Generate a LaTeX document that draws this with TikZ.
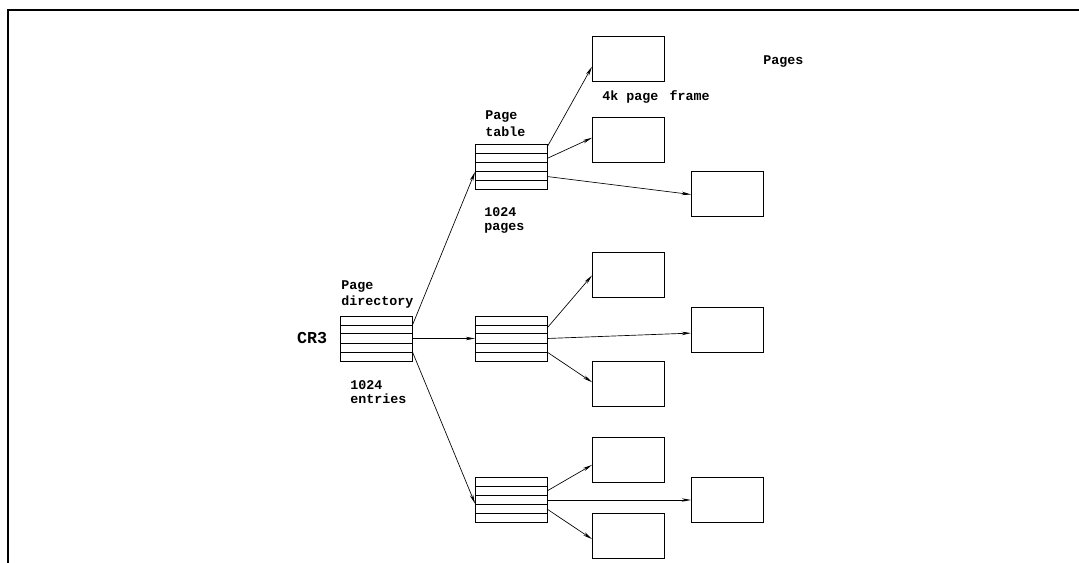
\documentclass[tikz,border=0pt]{standalone}
\usepackage{fontspec}
\setmonofont{Liberation Mono}
\usetikzlibrary{arrows.meta, calc}

\begin{document}
\begin{tikzpicture}[x=0.75pt, y=-0.75pt,
  ptable/.style={draw, line width=0.75pt, minimum width=54pt, minimum height=33.75pt, inner sep=0pt, outer sep=0pt},
  pframe/.style={draw, line width=0.75pt, minimum width=54pt, minimum height=33.75pt, inner sep=0pt, outer sep=0pt},
  lbl/.style={font=\ttfamily\bfseries\fontsize{10}{12}\selectfont, align=left, inner sep=0pt, anchor=west},
  ptr/.style={-{Stealth[length=7pt, width=2.6pt]}, line width=0.5pt}
]
  \useasboundingbox (0,0) rectangle (1079,563);
  \draw[line width=1.1pt] (8,563) -- (8,10) -- (1079,10);

  % directory and page tables
  \node[ptable] (pd)  at (376.5,338.5) {};
  \node[ptable] (pt1) at (511,167.5) {};
  \node[ptable] (pt2) at (511,338.5) {};
  \node[ptable] (pt3) at (511,500) {};
  \foreach \t in {pd,pt1,pt2,pt3}
    \foreach \f in {0.2,0.4,0.6,0.8}
      \draw[line width=0.75pt] ($(\t.north west)!\f!(\t.south west)$) -- ($(\t.north east)!\f!(\t.south east)$);

  % page frames
  \node[pframe] (pg1a) at (628,59.5) {};
  \node[pframe] (pg1b) at (628,140.5) {};
  \node[pframe] (pg1c) at (727,194.5) {};
  \node[pframe] (pg2a) at (628,275.5) {};
  \node[pframe] (pg2b) at (727,329.5) {};
  \node[pframe] (pg2c) at (628,383.5) {};
  \node[pframe] (pg3a) at (628,459.5) {};
  \node[pframe] (pg3b) at (727,500) {};
  \node[pframe] (pg3c) at (628,535.5) {};

  % labels
  \node[lbl, font=\ttfamily\bfseries\fontsize{12.5}{14}\selectfont, anchor=center] (cr) at (312,338) {CR3};
  \node[lbl] (pdlbl) at (341,294) {Page\\directory};
  \node[lbl, font=\ttfamily\bfseries\fontsize{10}{10.5}\selectfont] (entlbl) at (350,392) {1024\\entries};
  \node[lbl, font=\ttfamily\bfseries\fontsize{10}{13}\selectfont] (ptlbl) at (485,124) {Page\\table};
  \node[lbl, font=\ttfamily\bfseries\fontsize{10}{10.5}\selectfont] (pglbl) at (484,220) {1024\\pages};
  \node[lbl] (frlbl) at (602,97) {4k page\hspace{2.5pt} frame};
  \node[lbl] (pages) at (763,62) {Pages};

  % pointers: source / fraction down its east side / target / fraction down its west side
  \foreach \a/\fa/\b/\fb in {pd/0.2/pt1/0.6, pd/0.5/pt2/0.5, pd/0.8/pt3/0.58,
      pt1/0.05/pg1a/0.66, pt1/0.3/pg1b/0.44, pt1/0.7/pg1c/0.5,
      pt2/0.27/pg2a/0.5, pt2/0.5/pg2b/0.58, pt2/0.8/pg2c/0.47,
      pt3/0.3/pg3a/0.62, pt3/0.5/pg3b/0.5, pt3/0.7/pg3c/0.58}
    \draw[ptr] ($(\a.north east)!\fa!(\a.south east)$) -- ($(\b.north west)!\fb!(\b.south west)$);
\end{tikzpicture}
\end{document}
